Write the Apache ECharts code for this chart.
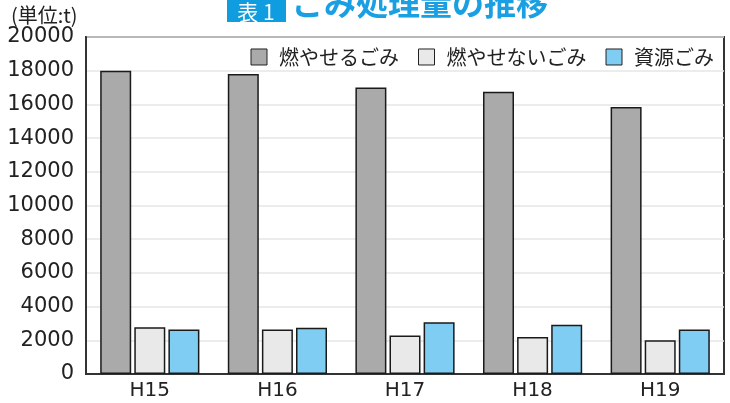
<!DOCTYPE html>
<html>
<head>
<meta charset="utf-8">
<script src="https://cdn.jsdelivr.net/npm/echarts@6/dist/echarts.min.js"></script>
<style>
  html, body { margin: 0; padding: 0; background: #fff; }
  #chart { width: 730px; height: 403px; }
</style>
</head>
<body>
<div id="chart"></div>
<script>
const years = ['H15', 'H16', 'H17', 'H18', 'H19']
const burnable = [18000, 17800, 17000, 16750, 15850]
const nonBurnable = [2780, 2640, 2280, 2200, 2000]
const recyclable = [2640, 2740, 3070, 2930, 2640]
const seriesNames = ['燃やせるごみ', '燃やせないごみ', '資源ごみ']

const jp = '"Noto Sans CJK JP", "Noto Sans", sans-serif'
const num = '"DejaVu Sans", sans-serif'

const myChart = echarts.init(document.getElementById('chart'))

const barStyle = (color) => ({
  color: color,
  borderColor: '#1a1a1a',
  borderWidth: 1.5
})

const option = {
  animation: false,
  graphic: [
    {
      type: 'rect',
      shape: { x: 227, y: 0, width: 59, height: 22 },
      style: { fill: '#0f9de0' }
    },
    {
      type: 'text',
      x: 256, y: 12,
      style: { text: '表 1', font: '21px ' + jp, fill: '#fff', align: 'center', verticalAlign: 'middle' }
    },
    {
      type: 'text',
      x: 292, y: 19,
      style: { text: 'ごみ処理量の推移', font: 'bold 32px ' + jp, fill: '#1a9fe2', verticalAlign: 'bottom' }
    },
    {
      type: 'text',
      x: 11, y: 15,
      style: { text: '(単位:t)', font: '20px ' + jp, fill: '#222', verticalAlign: 'middle' }
    }
  ],
  legend: {
    data: seriesNames,
    icon: 'rect',
    right: 11,
    top: 42,
    itemWidth: 16,
    itemHeight: 16,
    itemGap: 19,
    itemStyle: { borderColor: '#222', borderWidth: 1 },
    textStyle: { fontSize: 20, fontFamily: jp, color: '#222', padding: [0, 0, 0, 7] }
  },
  grid: {
    left: 86,
    right: 6,
    top: 37,
    bottom: 29,
    show: true,
    borderColor: '#333',
    borderWidth: 2
  },
  xAxis: {
    type: 'category',
    data: years,
    axisLine: { lineStyle: { color: '#333', width: 2 } },
    axisTick: { inside: true, length: 6, lineStyle: { color: '#222', width: 2 } },
    axisLabel: { fontSize: 20, fontFamily: num, color: '#222', margin: 7 }
  },
  yAxis: {
    type: 'value',
    min: 0,
    max: 20000,
    interval: 2000,
    axisLine: { show: true, lineStyle: { color: '#333', width: 2 } },
    axisTick: { show: false },
    axisLabel: { fontSize: 21, fontFamily: num, color: '#222', margin: 12, formatter: (v) => String(v) },
    splitLine: { lineStyle: { color: '#e6e6e6', width: 1.5 } }
  },
  series: [
    { name: seriesNames[0], type: 'bar', data: burnable, barWidth: 31, barGap: '10%', itemStyle: barStyle('#a9aaa9') },
    { name: seriesNames[1], type: 'bar', data: nonBurnable, barWidth: 31, barGap: '10%', itemStyle: barStyle('#e9e9e9') },
    { name: seriesNames[2], type: 'bar', data: recyclable, barWidth: 31, barGap: '10%', itemStyle: barStyle('#7fcdf3') }
  ]
}

option && myChart.setOption(option)
</script>
</body>
</html>
